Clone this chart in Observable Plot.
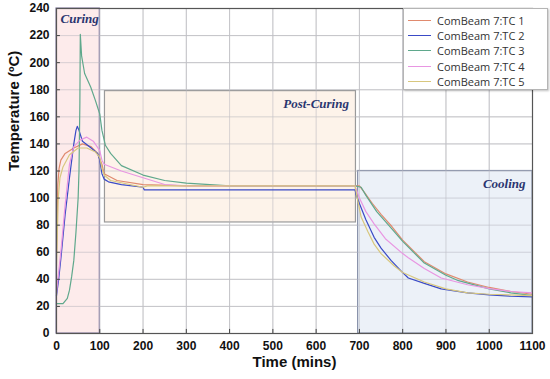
<!DOCTYPE html>
<html><head><meta charset="utf-8">
<script src="https://cdn.jsdelivr.net/npm/d3@7"></script>
<script src="https://cdn.jsdelivr.net/npm/@observablehq/plot@0.6"></script>
<style>
body{margin:0;background:#fff}
#wrap{position:relative;width:550px;height:379px}
#legend{position:absolute;left:403px;top:8px;width:145px;height:82px;background:#fff;border:1px solid #b5b5b5;box-shadow:1px 1px 2px rgba(0,0,0,0.25);font-family:"Open Sans",sans-serif;font-size:11px;color:#333;box-sizing:border-box}
.li{position:absolute;left:0;height:15px;line-height:15px;white-space:nowrap}
.li span.sw{position:absolute;left:4px;top:7px;width:23px;height:0;border-top:1.5px solid}
.li span.tx{position:absolute;left:33px;top:0}
</style>
</head><body><div id="wrap"><div id="legend"></div></div>
<script>
const seriesNames = ["ComBeam 7:TC 1","ComBeam 7:TC 2","ComBeam 7:TC 3","ComBeam 7:TC 4","ComBeam 7:TC 5"];
const seriesColors = ["#e08a6e","#3a4ac6","#5fa88c","#e896e2","#d8c77e"];

// [time (mins), temperature (°C)]
const tc1 = [[0,60],[3,110],[6,122],[10,128],[20,133],[40,137],[60,140],[80,138],[95,133],[105,125],[110,118],[140,113],[200,110],[300,109],[500,109],[690,109],[700,109],[712,104],[730,96],[750,88],[775,79],[800,69],[850,53],[900,44],[950,38],[1000,34],[1050,31],[1100,29]];
const tc2 = [[0,28],[5,40],[10,55],[20,88],[30,115],[40,140],[45,150],[48,153],[52,150],[60,142],[80,137],[95,133],[100,128],[105,118],[110,114],[120,112],[150,110],[200,108],[203,106],[400,106],[690,106],[692,103],[700,96],[715,84],[734,71],[750,63],[773,54],[800,45],[813,41],[850,37],[889,33],[950,30],[1000,28.5],[1050,27.5],[1100,27]];
const tc3 = [[0,22],[15,22],[25,26],[30,32],[35,42],[40,54],[45,75],[50,100],[52,120],[54,170],[55,221],[58,205],[65,192],[79,182],[90,172],[100,162],[105,150],[113,139],[125,133],[150,124],[200,117],[250,113],[300,111],[400,109],[690,109],[704,108],[715,102],[740,90],[773,78],[800,68],[850,52],[900,43],[929,39],[1000,33],[1050,30],[1100,28]];
const tc4 = [[0,30],[10,60],[20,95],[30,125],[40,138],[55,143],[70,145],[85,142],[100,135],[105,128],[110,125],[150,120],[200,115],[250,110],[300,109],[690,109],[700,100],[715,90],[734,81],[760,70],[800,59],[813,56],[850,48],[889,41],[950,36],[1005,33],[1050,31],[1100,30]];
const tc5 = [[0,50],[4,100],[8,115],[15,123],[30,132],[50,137],[70,137],[90,134],[100,130],[105,122],[110,117],[125,113],[200,108],[210,109],[690,109],[695,100],[704,86],[720,75],[734,66],[750,59],[780,50],[800,45],[850,38],[900,33],[950,30],[1000,29],[1100,28]];
const seriesData = [tc1, tc2, tc3, tc4, tc5];

const xTicks = [0,100,200,300,400,500,600,700,800,900,1000,1100];
const yTicks = [0,20,40,60,80,100,120,140,160,180,200,220,240];

const phaseNames = ["Curing","Post-Curing","Cooling"];
const phaseX1 = [0,112,697];
const phaseX2 = [100,692,1100];
const phaseY1 = [0,82,0];
const phaseY2 = [240,179,120];
const phaseFill = ["#fce6e6","#fdf0e5","#e7edf6"];
const phaseStroke = ["#8f86a8","#9a9a9a","#8a93ab"];

const xLabel = "Time (mins)";
const yLabel = "Temperature (ºC)";

const rows = [];
seriesData.forEach((s, i) => s.forEach(([t, v]) => rows.push({series: seriesNames[i], t, v})));
const phases = phaseNames.map((n, i) => ({name: n, x1: phaseX1[i], x2: phaseX2[i], y1: phaseY1[i], y2: phaseY2[i], fill: phaseFill[i], stroke: phaseStroke[i]}));

const labelFont = "Liberation Serif, DejaVu Serif, serif";
const fmt = d => String(d);
const chart = Plot.plot({
  width: 550, height: 379,
  marginLeft: 56, marginRight: 18, marginTop: 8, marginBottom: 46,
  style: {fontFamily: "Liberation Sans, Arial, sans-serif", fontSize: "12px", fontWeight: "bold", color: "#111", background: "#fff"},
  x: {domain: [0, 1100], ticks: xTicks, label: null, tickFormat: fmt},
  y: {domain: [0, 240], ticks: yTicks, label: null, tickFormat: fmt},
  color: {domain: seriesNames, range: seriesColors},
  marks: [
    Plot.ruleX(xTicks, {stroke: "#cfcfcf", strokeWidth: 1}),
    Plot.ruleY(yTicks, {stroke: "#cfcfcf", strokeWidth: 1}),
    Plot.rect(phases, {x1: "x1", x2: "x2", y1: "y1", y2: "y2", fill: "fill", fillOpacity: 0.8, stroke: "stroke", strokeWidth: 1.2}),
    Plot.ruleX(xTicks, {stroke: "#b9b9c4", strokeWidth: 0.8, strokeOpacity: 0.6}),
    Plot.ruleY(yTicks, {stroke: "#b9b9c4", strokeWidth: 0.8, strokeOpacity: 0.6}),
    Plot.line(rows, {x: "t", y: "v", z: "series", stroke: "series", strokeWidth: 1.2}),
    Plot.text(phases.filter(p => p.name === "Curing"), {x: "x1", y: "y2", text: "name", textAnchor: "start", dx: 4, dy: 10, fontFamily: labelFont, fontStyle: "italic", fontWeight: "bold", fontSize: 13, fill: "#2b3670"}),
    Plot.text(phases.filter(p => p.name !== "Curing"), {x: "x2", y: "y2", text: "name", textAnchor: "end", dx: -7, dy: 13, fontFamily: labelFont, fontStyle: "italic", fontWeight: "bold", fontSize: 13, fill: "#2b3670"}),
    Plot.ruleX(xTicks, {x: d => d, y1: 0, y2: 3, stroke: "#444"}),
    Plot.ruleY(yTicks, {y: d => d, x1: 0, x2: 9, stroke: "#444"}),
    Plot.frame({stroke: "#555", strokeWidth: 1.2}),
    Plot.axisX({ticks: xTicks, tickFormat: fmt, tickSize: 0, tickPadding: 8, fontSize: 12, fontWeight: "bold", fill: "#111"}),
    Plot.axisY({ticks: yTicks, tickFormat: fmt, tickSize: 0, tickPadding: 7, fontSize: 12, fontWeight: "bold", fill: "#111"}),
    Plot.text([xLabel], {frameAnchor: "bottom", dy: 33, fontSize: 15, fontWeight: "bold", fill: "#111"}),
    Plot.text([yLabel], {frameAnchor: "left", rotate: -90, dx: -42, fontSize: 15, fontWeight: "bold", fill: "#111"})
  ]
});
const wrap = document.getElementById("wrap");
wrap.insertBefore(chart, wrap.firstChild);

const legend = document.getElementById("legend");
seriesNames.forEach((n, i) => {
  const d = document.createElement("div");
  d.className = "li";
  d.style.top = (4 + i * 15.2) + "px";
  d.innerHTML = `<span class="sw" style="border-color:${seriesColors[i]}"></span><span class="tx"></span>`;
  d.querySelector(".tx").textContent = n;
  legend.appendChild(d);
});
</script>
</body></html>
